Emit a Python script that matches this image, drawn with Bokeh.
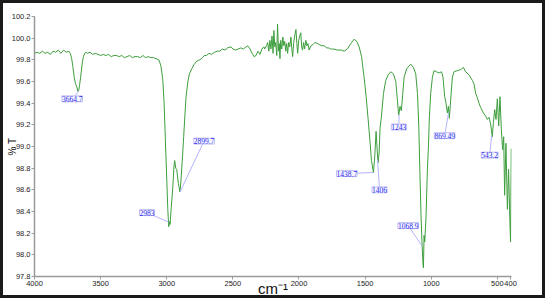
from bokeh.plotting import figure
from bokeh.models import ColumnDataSource, LabelSet, Range1d, FixedTicker
from bokeh.embed import file_html
from bokeh.resources import INLINE

# ---- spectrum (wavenumber cm-1, %T) ----
wavenumber = [
    4000, 3980, 3960, 3940, 3920, 3900, 3880, 3860, 3840, 3820, 3800, 3780, 3760, 3740, 3730,
    3720, 3710, 3700, 3690, 3680, 3672, 3665, 3660, 3650, 3640, 3630, 3620, 3610, 3600, 3580,
    3560, 3540, 3520, 3500, 3480, 3460, 3440, 3420, 3400, 3380, 3360, 3340, 3320, 3300, 3280,
    3260, 3240, 3220, 3200, 3180, 3160, 3140, 3120, 3100, 3080, 3060, 3045, 3030, 3020, 3010,
    3000, 2992, 2985, 2980, 2975, 2965, 2955, 2945, 2940, 2932, 2925, 2912, 2900, 2893, 2887,
    2880, 2872, 2862, 2854, 2840, 2829, 2810, 2792, 2770, 2750, 2730, 2716, 2700, 2680, 2660,
    2640, 2615, 2600, 2580, 2560, 2540, 2514, 2500, 2480, 2460, 2440, 2420, 2400, 2388, 2370,
    2355, 2340, 2325, 2310, 2295, 2280, 2265, 2260, 2245, 2237, 2228, 2220, 2212, 2204, 2196,
    2190, 2183, 2176, 2168, 2162, 2155, 2149, 2144, 2138, 2130, 2122, 2115, 2108, 2100, 2093,
    2086, 2078, 2070, 2061, 2054, 2048, 2040, 2031, 2023, 2016, 2010, 2002, 1994, 1986, 1980,
    1973, 1965, 1958, 1948, 1940, 1932, 1923, 1910, 1895, 1880, 1860, 1845, 1830, 1810, 1790,
    1775, 1760, 1740, 1708, 1680, 1659, 1634, 1608, 1583, 1563, 1545, 1527, 1508, 1492, 1477,
    1462, 1452, 1437, 1427, 1417, 1409, 1402, 1394, 1387, 1377, 1361, 1344, 1326, 1306, 1286,
    1268, 1256, 1246, 1236, 1226, 1215, 1205, 1185, 1155, 1135, 1117, 1104, 1094, 1085, 1077,
    1070, 1062, 1059, 1054, 1049, 1039, 1029, 1022, 1014, 1004, 991, 979, 961, 940, 922,
    911, 898, 888, 878, 870, 863, 853, 840, 828, 803, 777, 757, 739, 714, 689,
    677, 664, 651, 639, 626, 606, 588, 576, 563, 551, 538, 530, 520, 510, 500,
    490, 480, 470, 460, 452, 445, 435, 424, 415, 405, 400, 395,
]
transmittance = [
    99.86, 99.87, 99.86, 99.88, 99.86, 99.87, 99.85, 99.88, 99.87, 99.89, 99.86, 99.89, 99.87, 99.88, 99.86,
    99.82, 99.74, 99.64, 99.58, 99.55, 99.51, 99.52, 99.56, 99.65, 99.76, 99.83, 99.86, 99.87, 99.86, 99.87,
    99.85, 99.86, 99.85, 99.84, 99.85, 99.84, 99.85, 99.83, 99.84, 99.84, 99.83, 99.84, 99.82, 99.83, 99.84,
    99.82, 99.83, 99.83, 99.82, 99.84, 99.82, 99.83, 99.82, 99.82, 99.81, 99.80, 99.75, 99.62, 99.40, 99.05,
    98.70, 98.42, 98.26, 98.31, 98.28, 98.45, 98.61, 98.82, 98.87, 98.80, 98.79, 98.66, 98.58, 98.68, 98.79,
    98.92, 99.09, 99.30, 99.46, 99.60, 99.67, 99.72, 99.76, 99.79, 99.80, 99.82, 99.84, 99.84, 99.86, 99.85,
    99.87, 99.88, 99.88, 99.90, 99.89, 99.91, 99.92, 99.90, 99.89, 99.90, 99.91, 99.90, 99.92, 99.93, 99.90,
    99.86, 99.83, 99.84, 99.88, 99.85, 99.90, 99.92, 99.90, 99.93, 99.96, 99.88, 99.98, 99.90, 100.02, 99.86,
    100.07, 99.92, 99.96, 99.84, 100.13, 99.88, 99.95, 99.81, 99.98, 99.90, 100.01, 99.93, 99.97, 99.88, 99.95,
    99.86, 99.96, 99.92, 100.01, 99.90, 99.83, 99.96, 100.03, 100.08, 99.95, 99.86, 99.98, 100.02, 100.05, 99.92,
    99.89, 99.96, 99.90, 99.98, 99.93, 99.95, 99.89, 99.93, 99.94, 99.96, 99.95, 99.94, 99.93, 99.93, 99.91,
    99.91, 99.90, 99.90, 99.89, 99.89, 99.88, 99.90, 99.95, 99.99, 99.97, 99.92, 99.83, 99.64, 99.46, 99.25,
    99.03, 98.87, 98.76, 98.91, 99.14, 98.97, 98.85, 98.94, 99.17, 99.27, 99.49, 99.61, 99.66, 99.69, 99.67,
    99.60, 99.43, 99.29, 99.37, 99.33, 99.49, 99.64, 99.72, 99.76, 99.73, 99.67, 99.49, 99.18, 98.73, 98.36,
    98.12, 97.91, 97.88, 98.18, 98.12, 98.36, 98.79, 98.97, 99.27, 99.49, 99.64, 99.70, 99.69, 99.68, 99.69,
    99.64, 99.46, 99.40, 99.31, 99.37, 99.26, 99.43, 99.64, 99.69, 99.70, 99.71, 99.73, 99.69, 99.66, 99.61,
    99.58, 99.49, 99.45, 99.40, 99.36, 99.31, 99.28, 99.25, 99.27, 99.21, 99.09, 99.22, 99.34, 99.25, 99.44,
    99.19, 99.46, 99.16, 98.97, 99.09, 98.55, 99.03, 98.42, 98.79, 98.30, 98.12, 98.98,
]

# ---- peak annotations ----
peak_text = ["3664.7", "2983", "2899.7", "1438.7", "1406", "1243", "1068.9", "869.49", "543.2"]
peak_x = [3664.7, 2983, 2899.7, 1438.7, 1406, 1243, 1068.9, 869.49, 543.2]
peak_y = [99.51, 98.30, 98.58, 98.76, 98.88, 99.29, 98.08, 99.31, 99.10]
label_x = [3715, 3149, 2718, 1638, 1391, 1245, 1174, 898, 558]
label_y = [99.44, 98.39, 99.05, 98.75, 98.60, 99.18, 98.27, 99.10, 98.92]

# ---- axes ----
x_ticks = [4000, 3500, 3000, 2500, 2000, 1500, 1000, 500, 400]
y_ticks = [97.8, 98.0, 98.2, 98.4, 98.6, 98.8, 99.0, 99.2, 99.4, 99.6, 99.8, 100.0, 100.2]
y_tick_labels = ["97.8", "98.0", "98.2", "98.4", "98.6", "98.8", "99.0", "99.2", "99.4", "99.6", "99.8", "100.0", "100.2"]
x_title = "cm\u207b\u00b9"
y_title = "% T"

FONT = "Liberation Sans"

p = figure(
    width=545, height=298,
    x_range=Range1d(4000, 393), y_range=Range1d(97.8, 100.2),
    output_backend="svg", toolbar_location=None,
    min_border_left=30, min_border_right=37, min_border_top=13, min_border_bottom=25,
    styles={"border": "3px solid #1a1a1a"},
)
p.outline_line_color = None
p.xgrid.visible = False
p.ygrid.visible = False
p.background_fill_color = "white"
p.border_fill_color = "white"

for ax in (p.xaxis[0], p.yaxis[0]):
    ax.axis_line_color = "#9a9a9a"
    ax.axis_line_width = 1.5
    ax.major_tick_line_color = "#9a9a9a"
    ax.major_tick_in = 0
    ax.major_tick_out = 3
    ax.minor_tick_line_color = None
    ax.major_label_text_font = FONT
    ax.major_label_text_font_size = "7.5px"
    ax.major_label_text_color = "#222222"
    ax.major_label_standoff = 1
    ax.axis_label_text_font = FONT
    ax.axis_label_text_font_style = "normal"
    ax.axis_label_text_color = "#111111"

p.xaxis.ticker = FixedTicker(ticks=x_ticks)
p.yaxis.ticker = FixedTicker(ticks=y_ticks)
p.yaxis.major_label_overrides = {v: s for v, s in zip(y_ticks, y_tick_labels)}

p.xaxis.axis_label = x_title
p.xaxis.axis_label_text_font_size = "15px"
p.xaxis.axis_label_standoff = -9
p.yaxis.axis_label = y_title
p.yaxis.axis_label_text_font_size = "10px"
p.yaxis.axis_label_standoff = -9

p.line(wavenumber, transmittance, line_color="#3d9e3d", line_width=1)

# leader lines
p.segment(x0=label_x, y0=label_y, x1=peak_x, y1=peak_y, line_color="#b4b4ff", line_width=1)

src = ColumnDataSource(dict(x=label_x, y=label_y, text=peak_text))
labels = LabelSet(
    x="x", y="y", text="text", source=src,
    text_align="center", text_baseline="middle",
    text_font=FONT, text_font_size="7.5px", text_color="#2a2aee",
    background_fill_color="#f6f6ff", border_line_color="#c0c0f4", border_line_width=1,
)
p.add_layout(labels)

open("out.html", "w").write(file_html(p, INLINE))
